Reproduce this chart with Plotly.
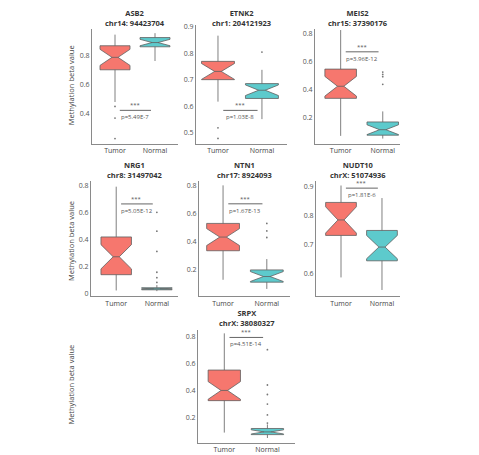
import plotly.graph_objects as go

W, H = 479, 455

genes = ["ASB2", "ETNK2", "MEIS2", "NRG1", "NTN1", "NUDT10", "SRPX"]
loci = ["chr14: 94423704", "chr1: 204121923", "chr15: 37390176", "chr8: 31497042",
        "chr17: 8924093", "chrX: 51074936", "chrX: 38080327"]
pvals = ["p=5.49E-7", "p=1.03E-8", "p=3.96E-12", "p=5.05E-12",
         "p=1.67E-13", "p=1.81E-6", "p=4.51E-14"]
groups = ["Tumor", "Normal"]

# Tumor box statistics
t_q1 = [0.700, 0.700, 0.340, 0.137, 0.336, 0.732, 0.325]
t_med = [0.785, 0.731, 0.426, 0.270, 0.433, 0.785, 0.400]
t_q3 = [0.864, 0.769, 0.548, 0.417, 0.530, 0.845, 0.550]
t_lo = [0.480, 0.617, 0.073, 0.020, 0.130, 0.588, 0.090]
t_hi = [0.940, 0.866, 0.826, 0.790, 0.800, 0.903, 0.820]
t_notch = [0.055, 0.030, 0.070, 0.090, 0.060, 0.045, 0.065]
t_out = [[0.45, 0.37, 0.23], [0.518, 0.478], [], [], [], [], []]

# Normal box statistics
n_q1 = [0.857, 0.629, 0.078, 0.025, 0.113, 0.645, 0.075]
n_med = [0.886, 0.660, 0.117, 0.032, 0.153, 0.692, 0.095]
n_q3 = [0.920, 0.685, 0.172, 0.040, 0.200, 0.749, 0.120]
n_lo = [0.760, 0.551, 0.054, 0.015, 0.065, 0.545, 0.050]
n_hi = [0.950, 0.737, 0.247, 0.060, 0.277, 0.860, 0.150]
n_notch = [0.022, 0.020, 0.035, 0.004, 0.035, 0.040, 0.015]
n_out = [[], [0.804], [0.527, 0.51, 0.494, 0.44], [0.60, 0.46, 0.31, 0.155, 0.115, 0.08],
         [0.53, 0.477, 0.43], [], [0.70, 0.44, 0.37, 0.30, 0.22, 0.16]]

sig_y = [0.423, 0.584, 0.671, 0.662, 0.669, 0.894, 0.790]
yticks = [[0.4, 0.6, 0.8], [0.5, 0.6, 0.7, 0.8, 0.9], [0.2, 0.4, 0.6, 0.8],
          [0, 0.2, 0.4, 0.6, 0.8], [0.2, 0.4, 0.6, 0.8], [0.6, 0.7, 0.8, 0.9],
          [0.2, 0.4, 0.6, 0.8]]
yticktext = [["0.4", "0.6", "0.8"], ["0.5", "0.6", "0.7", "0.8", "0.9"],
             ["0.2", "0.4", "0.6", "0.8"], ["0", "0.2", "0.4", "0.6", "0.8"],
             ["0.2", "0.4", "0.6", "0.8"], ["0.6", "0.7", "0.8", "0.9"],
             ["0.2", "0.4", "0.6", "0.8"]]

# layout: pixel boxes (x0, x1, ytop, ybottom) and axis ranges
boxes = [(92, 178, 26, 142), (196, 287, 22, 142), (315, 400, 26, 142),
         (91, 178, 180, 296), (199, 290, 180, 296), (316, 400, 180, 296),
         (198, 295, 330, 444)]
xranges = [(-0.575, 1.575), (-0.5, 1.57), (-0.61, 1.41), (-0.62, 1.52),
           (-0.55, 1.53), (-0.61, 1.44), (-0.61, 1.64)]
yranges = [(0.195, 0.98), (0.458, 0.907), (0.017, 0.835), (-0.024, 0.829),
           (0.012, 0.828), (0.523, 0.917), (0.0126, 0.844)]
title_y = [15, 15, 15, 168, 168, 168, 318]

TUMOR = "#F6776E"
NORMAL = "#5DCACC"
EDGE = "#606060"
FONT = "Open Sans"

fig = go.Figure()
layout = dict(width=W, height=H, margin=dict(l=0, r=0, t=0, b=0),
              paper_bgcolor="white", plot_bgcolor="white", showlegend=False,
              boxmode="overlay", font=dict(family=FONT, size=7, color="#444"))
annotations = []
shapes = []

for i, g in enumerate(genes):
    k = "" if i == 0 else str(i + 1)
    xa, ya = "x" + k, "y" + k
    x0, x1, yt, yb = boxes[i]
    layout["xaxis" + k] = dict(domain=[x0 / W, x1 / W], anchor=ya, type="category",
                               categoryorder="array", categoryarray=groups,
                               range=list(xranges[i]), showline=True, linecolor="#8a8a8a",
                               linewidth=1, ticks="", showgrid=False, zeroline=False,
                               tickfont=dict(size=7, color="#444"))
    layout["yaxis" + k] = dict(domain=[1 - yb / H, 1 - yt / H], anchor=xa,
                               range=list(yranges[i]), showline=True, linecolor="#8a8a8a",
                               linewidth=1, ticks="", showgrid=False, zeroline=False,
                               tickvals=yticks[i], ticktext=yticktext[i],
                               tickfont=dict(size=7, color="#555"))
    for grp, q1, md, q3, lo, hi, ns, fc in [
        ("Tumor", t_q1[i], t_med[i], t_q3[i], t_lo[i], t_hi[i], t_notch[i], TUMOR),
        ("Normal", n_q1[i], n_med[i], n_q3[i], n_lo[i], n_hi[i], n_notch[i], NORMAL)]:
        fig.add_trace(go.Box(x=[grp], q1=[q1], median=[md], q3=[q3], lowerfence=[lo],
                             upperfence=[hi], notchspan=[ns], notched=True, notchwidth=0.4,
                             width=0.75, whiskerwidth=0, fillcolor=fc,
                             line=dict(color=EDGE, width=0.8), boxpoints=False,
                             xaxis=xa, yaxis=ya, hoverinfo="skip"))
    for grp, outs in [("Tumor", t_out[i]), ("Normal", n_out[i])]:
        if outs:
            fig.add_trace(go.Scatter(x=[grp] * len(outs), y=outs, mode="markers",
                                     marker=dict(size=1.8, color="#777"),
                                     xaxis=xa, yaxis=ya, hoverinfo="skip"))
    # significance bar
    shapes.append(dict(type="line", xref=xa, yref=ya, x0=0.12, x1=0.9,
                       y0=sig_y[i], y1=sig_y[i], line=dict(color="#555", width=0.9)))
    annotations.append(dict(xref=xa, yref=ya, x=0.51, y=sig_y[i], text="***",
                            showarrow=False, yanchor="bottom", yshift=-1,
                            font=dict(size=6, color="#555")))
    annotations.append(dict(xref=xa, yref=ya, x=0.51, y=sig_y[i], text=pvals[i],
                            showarrow=False, yanchor="top", yshift=-1,
                            font=dict(size=6, color="#555")))
    # panel title
    annotations.append(dict(xref="paper", yref="paper", x=(x0 + x1) / 2 / W,
                            y=1 - title_y[i] / H, text="<b>" + g + "</b><br><b>" + loci[i] + "</b>",
                            showarrow=False, xanchor="center", yanchor="middle",
                            font=dict(size=7.5, color="#333", family=FONT)))

for yc in [83, 240, 385]:
    annotations.append(dict(xref="paper", yref="paper", x=71 / W, y=1 - yc / H,
                            text="Methylation beta value", textangle=-90, showarrow=False,
                            xanchor="center", yanchor="middle",
                            font=dict(size=7.5, color="#444", family=FONT)))

layout["annotations"] = annotations
layout["shapes"] = shapes
fig.update_layout(**layout)
fig.write_html("out.html")
